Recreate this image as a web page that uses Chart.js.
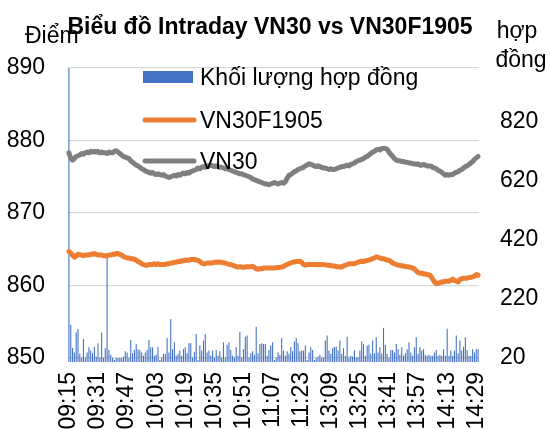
<!DOCTYPE html>
<html lang="vi">
<head>
<meta charset="UTF-8">
<title>Biểu đồ Intraday VN30 vs VN30F1905</title>
<script src="https://cdn.jsdelivr.net/npm/chart.js"></script>
<style>
    body { margin: 0; background: #fff; }
    #wrap { position: relative; width: 550px; height: 429px; }
</style>
</head>
<body>
<div id="wrap"><canvas id="intradayChart" width="550" height="429"></canvas></div>
<script>
// phiên sáng / phiên chiều, mỗi phút 1 điểm
const sessions = [['09:15', '11:29'], ['13:00', '14:30']];
const labelEvery = 16;
const leftTicks = [850, 860, 870, 880, 890];
const rightTicks = [20, 220, 420, 620, 820];

const vn30 = [
    878.3, 877.6, 877.3, 877.5, 877.8, 877.9, 878.0, 878.2, 878.1, 878.3,
    878.4, 878.3, 878.5, 878.4, 878.5, 878.4, 878.5, 878.3, 878.4, 878.3,
    878.3, 878.2, 878.4, 878.3, 878.3, 878.5, 878.6, 878.4, 878.2, 878.0,
    877.8, 877.7, 877.6, 877.5, 877.2, 877.0, 876.8, 876.6, 876.5, 876.3,
    876.1, 876.0, 875.8, 875.7, 875.6, 875.5, 875.6, 875.4, 875.3, 875.4,
    875.3, 875.2, 875.3, 875.1, 875.0, 874.9, 875.0, 875.1, 875.2, 875.1,
    875.3, 875.2, 875.4, 875.5, 875.4, 875.6, 875.5, 875.7, 875.8, 875.9,
    876.0, 876.2, 876.1, 876.3, 876.4, 876.3, 876.5, 876.5, 876.6, 876.5,
    876.4, 876.5, 876.4, 876.3, 876.3, 876.2, 876.1, 876.1, 876.0, 875.9,
    875.8, 875.7, 875.6, 875.5, 875.4, 875.4, 875.3, 875.2, 875.1, 875.0,
    874.9, 874.7, 874.6, 874.5, 874.4, 874.3, 874.2, 874.1, 874.0, 874.0,
    873.9, 874.0, 874.1, 874.2, 874.1, 874.0, 874.1, 874.2, 874.1, 874.3,
    874.8, 875.2, 875.3, 875.5, 875.7, 875.8, 876.0, 876.1, 876.2, 876.3,
    876.5, 876.6, 876.8, 876.7, 876.6, 876.5, 876.4, 876.5, 876.4, 876.3,
    876.2, 876.2, 876.1, 876.0, 876.1, 876.0, 876.0, 876.1, 876.2, 876.3,
    876.4, 876.4, 876.5, 876.6, 876.5, 876.7, 876.8, 876.9, 877.1, 877.2,
    877.3, 877.4, 877.5, 877.7, 877.8, 878.0, 878.2, 878.4, 878.5, 878.7,
    878.8, 878.7, 878.9, 878.9, 878.9, 878.8, 878.4, 878.1, 877.8, 877.5,
    877.3, 877.2, 877.2, 877.1, 877.1, 877.0, 877.0, 876.9, 876.9, 876.8,
    876.8, 876.7, 876.8, 876.6, 876.6, 876.7, 876.6, 876.5, 876.5, 876.5,
    876.3, 876.2, 876.1, 875.9, 875.8, 875.6, 875.4, 875.2, 875.3, 875.2,
    875.3, 875.3, 875.5, 875.6, 875.7, 875.9, 876.0, 876.2, 876.4, 876.5,
    876.7, 876.9, 877.1, 877.4, 877.6, 877.8
];

const vn30f1905 = [
    864.7, 864.5, 864.2, 863.9, 864.1, 864.3, 864.25, 864.2, 864.1, 864.2,
    864.2, 864.2, 864.3, 864.3, 864.4, 864.3, 864.2, 864.2, 864.2, 864.1,
    864.1, 864.1, 864.2, 864.2, 864.3, 864.3, 864.4, 864.4, 864.3, 864.2,
    864.0, 863.9, 863.8, 863.8, 863.7, 863.7, 863.6, 863.5, 863.3, 863.2,
    863.0, 862.9, 862.8, 862.8, 862.9, 862.9, 862.9, 863.0, 862.9, 863.0,
    862.9, 862.9, 862.9, 862.9, 863.0, 863.0, 863.1, 863.1, 863.2, 863.2,
    863.3, 863.3, 863.4, 863.4, 863.5, 863.5, 863.5, 863.6, 863.6, 863.6,
    863.5, 863.5, 863.3, 863.1, 863.0, 863.0, 863.1, 863.1, 863.1, 863.1,
    863.2, 863.2, 863.25, 863.2, 863.2, 863.1, 863.1, 863.0, 862.9, 862.9,
    862.8, 862.7, 862.6, 862.55, 862.6, 862.55, 862.5, 862.55, 862.6, 862.6,
    862.6, 862.65, 862.5, 862.3, 862.25, 862.3, 862.3, 862.4, 862.4, 862.4,
    862.4, 862.4, 862.4, 862.4, 862.45, 862.5, 862.5, 862.55, 862.6, 862.8,
    862.9, 863.0, 863.1, 863.2, 863.25, 863.3, 863.3, 863.35, 863.2, 862.9,
    862.8, 862.9, 862.9, 862.9, 862.9, 862.9, 862.9, 862.9, 862.85, 862.9,
    862.9, 862.85, 862.8, 862.8, 862.75, 862.7, 862.7, 862.6, 862.6, 862.55,
    862.55, 862.7, 862.8, 862.9, 863.0, 863.0, 863.0, 863.0, 863.1, 863.2,
    863.3, 863.35, 863.3, 863.4, 863.45, 863.5, 863.6, 863.7, 863.8, 863.95,
    863.9, 863.8, 863.7, 863.7, 863.6, 863.5, 863.5, 863.3, 863.1, 863.0,
    862.9, 862.8, 862.8, 862.7, 862.7, 862.6, 862.6, 862.55, 862.5, 862.4,
    862.3, 862.0, 861.8, 861.7, 861.7, 861.6, 861.6, 861.5, 861.5, 861.3,
    860.9, 860.5, 860.25, 860.3, 860.4, 860.5, 860.5, 860.6, 860.6, 860.6,
    860.7, 860.9, 860.7, 860.6, 860.5, 860.8, 860.95, 861.0, 861.0, 861.0,
    861.1, 861.1, 861.2, 861.3, 861.5, 861.4
];

// khối lượng hợp đồng theo phút (phút đầu là ATO, vượt khung)
const volume = [
    3000, 133, 54, 39, 107, 118, 34, 22, 84, 22,
    39, 56, 45, 36, 58, 25, 70, 22, 106, 21,
    53, 362, 47, 31, 21, 13, 20, 20, 20, 20,
    25, 43, 39, 22, 81, 36, 47, 67, 50, 47,
    39, 28, 39, 47, 81, 56, 56, 28, 31, 58,
    13, 22, 34, 34, 88, 39, 152, 50, 73, 28,
    34, 45, 28, 50, 56, 36, 70, 70, 22, 41,
    101, 13, 62, 45, 79, 101, 39, 45, 28, 45,
    22, 47, 28, 43, 22, 73, 22, 65, 73, 47,
    28, 22, 56, 28, 109, 22, 50, 92, 96, 22,
    36, 43, 31, 126, 36, 67, 70, 67, 67, 28,
    47, 62, 73, 13, 22, 39, 30, 88, 45, 28,
    43, 34, 56, 43, 76, 88, 70, 43, 45, 45,
    62, 13, 39, 56, 47, 13, 20, 25, 31, 22,
    22, 79, 96, 45, 34, 54, 58, 58, 45, 79,
    34, 54, 28, 92, 22, 28, 25, 45, 22, 22,
    45, 76, 67, 28, 62, 65, 34, 79, 36, 90,
    39, 56, 34, 122, 65, 34, 22, 47, 47, 39,
    67, 50, 31, 56, 28, 36, 50, 73, 39, 28,
    56, 90, 34, 56, 45, 50, 31, 28, 31, 28,
    28, 39, 47, 28, 31, 28, 50, 28, 119, 28,
    45, 28, 45, 96, 36, 79, 45, 58, 90, 47,
    28, 28, 50, 39, 50, 50
];

const chartTitle = 'Biểu đồ Intraday VN30 vs VN30F1905';
const leftAxisTitle = 'Điểm';
const rightAxisTitle = ['hợp', 'đồng'];

const FONT = '"Liberation Sans", Arial, sans-serif';
const BLUE = '#4472C4', ORANGE = '#ED7D31', GRAY = '#7F7F7F';

function buildTimes(list) {
    const out = [];
    list.forEach(([from, to]) => {
        const toMin = s => { const [h, m] = s.split(':').map(Number); return h * 60 + m; };
        for (let t = toMin(from); t <= toMin(to); t++) {
            const h = String(Math.floor(t / 60)).padStart(2, '0');
            const m = String(t % 60).padStart(2, '0');
            out.push(h + ':' + m);
        }
    });
    return out;
}
const times = buildTimes(sessions);

// tiêu đề, tên trục và chú thích vẽ đè lên vùng biểu đồ (giống Excel)
const overlayPlugin = {
    id: 'overlay',
    afterDraw(chart) {
        const ctx = chart.ctx;
        ctx.save();
        ctx.fillStyle = '#000';
        ctx.textBaseline = 'alphabetic';

        ctx.font = 'normal 23px ' + FONT;
        ctx.textAlign = 'left';
        ctx.fillText(leftAxisTitle, 25, 43);
        ctx.textAlign = 'center';
        ctx.fillText(rightAxisTitle[0], 517, 38);
        ctx.fillText(rightAxisTitle[1], 521, 67);

        ctx.font = 'bold 23px ' + FONT;
        ctx.fillText(chartTitle, 270, 34);

        // chú thích
        const legendY = [77, 120, 161];
        const order = [2, 1, 0];
        ctx.font = 'normal 23px ' + FONT;
        ctx.textAlign = 'left';
        order.forEach((di, k) => {
            const ds = chart.data.datasets[di];
            const y = legendY[k];
            if (ds.type === 'bar') {
                ctx.fillStyle = ds.backgroundColor;
                ctx.fillRect(143, y - 6, 50, 12);
            } else {
                ctx.strokeStyle = ds.borderColor;
                ctx.lineWidth = 5;
                ctx.lineCap = 'round';
                ctx.beginPath();
                ctx.moveTo(145, y);
                ctx.lineTo(194, y);
                ctx.stroke();
            }
            ctx.fillStyle = '#000';
            ctx.fillText(ds.label, 200, y + 8);
        });
        ctx.restore();
    }
};

const ctx = document.getElementById('intradayChart').getContext('2d');
new Chart(ctx, {
    data: {
        labels: times,
        datasets: [{
            type: 'line',
            label: 'VN30',
            data: vn30,
            yAxisID: 'y',
            borderColor: GRAY,
            borderWidth: 5,
            borderCapStyle: 'round',
            borderJoinStyle: 'round',
            pointRadius: 0,
            tension: 0,
            order: 1
        }, {
            type: 'line',
            label: 'VN30F1905',
            data: vn30f1905,
            yAxisID: 'y',
            borderColor: ORANGE,
            borderWidth: 5,
            borderCapStyle: 'round',
            borderJoinStyle: 'round',
            pointRadius: 0,
            tension: 0,
            order: 2
        }, {
            type: 'bar',
            label: 'Khối lượng hợp đồng',
            data: volume,
            yAxisID: 'y1',
            backgroundColor: BLUE,
            categoryPercentage: 1,
            barPercentage: 0.6,
            clip: { left: 0, top: 0, right: 0, bottom: 4 },
            order: 3
        }]
    },
    options: {
        responsive: false,
        devicePixelRatio: 1,
        animation: false,
        layout: { padding: { top: 68, left: 0, right: 0, bottom: 0 } },
        plugins: {
            legend: { display: false },
            title: { display: false },
            tooltip: { enabled: false }
        },
        scales: {
            x: {
                grid: { display: false },
                border: { display: false },
                ticks: {
                    autoSkip: false,
                    minRotation: 90,
                    maxRotation: 90,
                    padding: 6,
                    color: '#000',
                    font: { family: FONT, size: 23 },
                    callback: function (val, idx) {
                        return idx % labelEvery === 0 ? this.getLabelForValue(val) : '';
                    }
                },
                afterFit: s => { s.height = 71; }
            },
            y: {
                position: 'left',
                min: leftTicks[0],
                max: leftTicks[leftTicks.length - 1],
                grid: { color: '#D9D9D9', lineWidth: 1.2, drawTicks: false },
                border: { display: false },
                ticks: {
                    stepSize: 10,
                    padding: 23,
                    color: '#000',
                    font: { family: FONT, size: 23 }
                },
                afterBuildTicks: s => { s.ticks = leftTicks.map(v => ({ value: v })); },
                afterFit: s => { s.width = 68; }
            },
            y1: {
                position: 'right',
                min: 20,
                max: 1002,
                grid: { display: false, drawTicks: false },
                border: { display: false },
                ticks: {
                    padding: 21,
                    color: '#000',
                    font: { family: FONT, size: 23 }
                },
                afterBuildTicks: s => { s.ticks = rightTicks.map(v => ({ value: v })); },
                afterFit: s => { s.width = 71; }
            }
        }
    },
    plugins: [overlayPlugin]
});
</script>
</body>
</html>
